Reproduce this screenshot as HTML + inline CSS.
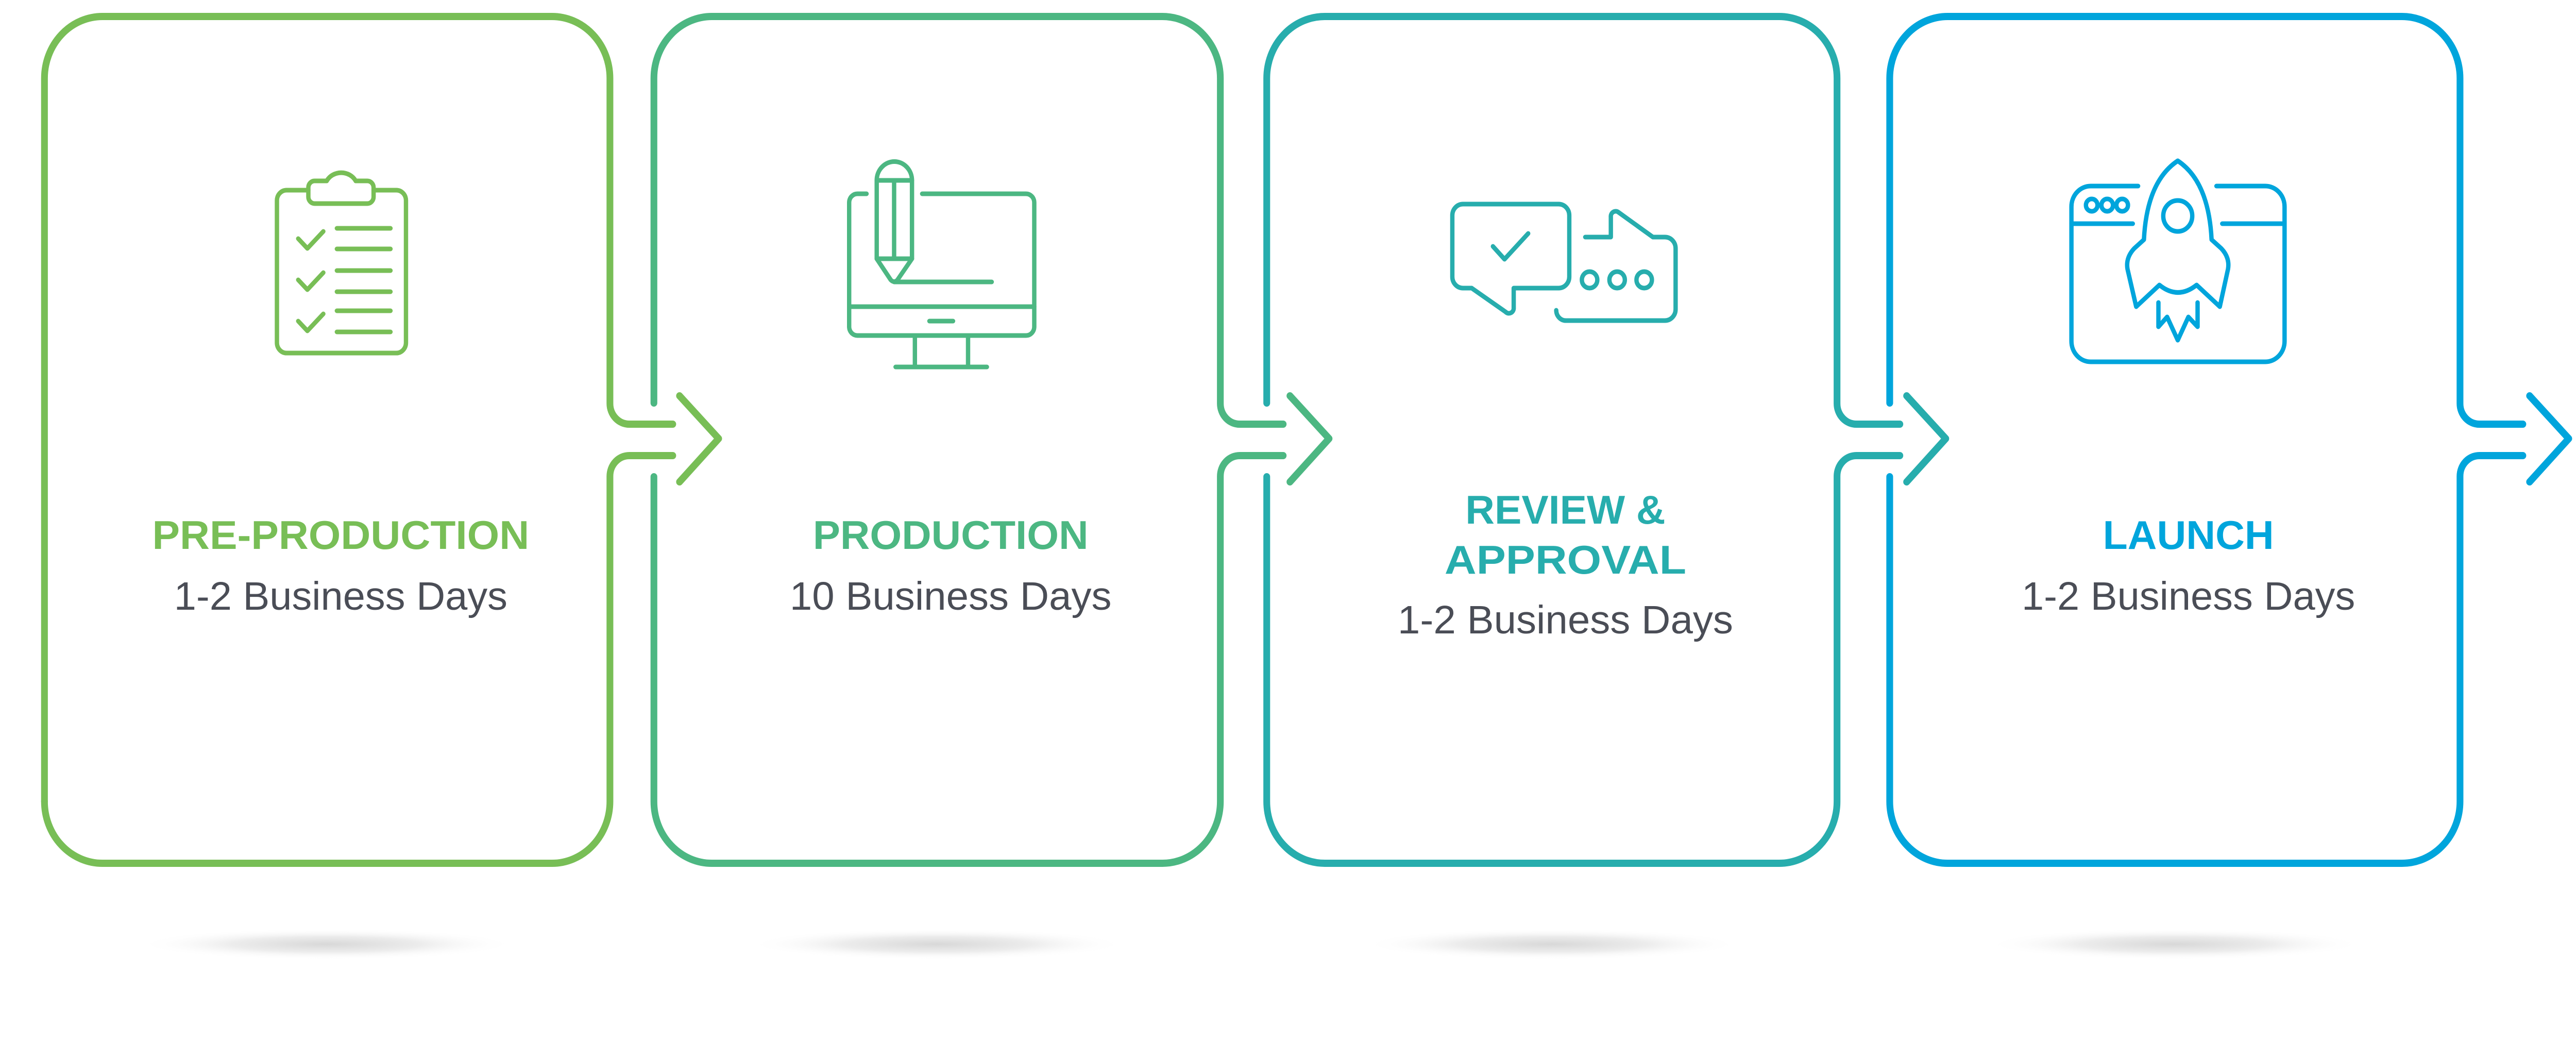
<!DOCTYPE html>
<html><head><meta charset="utf-8"><style>
html,body{margin:0;padding:0;background:#fff;overflow:hidden;width:100vw;height:100vh;}
svg{display:block;width:100vw;height:100vh;}
text{font-family:"Liberation Sans",sans-serif;}
.t{font-weight:bold;font-size:78px;}
.s{font-size:77px;fill:#4a4d56;}
</style></head><body>
<svg viewBox="0 0 5330 2014" preserveAspectRatio="none" xmlns="http://www.w3.org/2000/svg">
<defs>
<radialGradient id="sh" cx="50%" cy="50%" r="50%">
<stop offset="0" stop-color="#d8d8d8"/>
<stop offset="0.5" stop-color="#ececec"/>
<stop offset="1" stop-color="#fff" stop-opacity="0"/>
</radialGradient>
</defs>
<rect width="5330" height="2014" fill="#fff"/>
<ellipse cx="676" cy="1832" rx="390" ry="30" fill="url(#sh)"/>
<ellipse cx="1939" cy="1832" rx="390" ry="30" fill="url(#sh)"/>
<ellipse cx="3211" cy="1832" rx="390" ry="30" fill="url(#sh)"/>
<ellipse cx="4500" cy="1832" rx="390" ry="30" fill="url(#sh)"/>

<g fill="none" stroke-width="14" stroke-linecap="round" stroke-linejoin="round">
<g stroke="#78BE56">
<path d="M92 1555 V152 A120 120 0 0 1 212 32 H1142 A120 120 0 0 1 1262 152 V783 A40 40 0 0 0 1302 823 H1392"/>
<path d="M1392 884 H1302 A40 40 0 0 0 1262 924 V1555 A120 120 0 0 1 1142 1675 H212 A120 120 0 0 1 92 1555"/>
<path d="M1406 768 L1487 851 L1406 935"/>
</g>
<g stroke="#4CB782">
<path d="M1353 782 V152 A120 120 0 0 1 1473 32 H2405 A120 120 0 0 1 2525 152 V783 A40 40 0 0 0 2565 823 H2655"/>
<path d="M2655 884 H2565 A40 40 0 0 0 2525 924 V1555 A120 120 0 0 1 2405 1675 H1473 A120 120 0 0 1 1353 1555 V925"/>
<path d="M2669 768 L2750 851 L2669 935"/>
</g>
<g stroke="#27ADAD">
<path d="M2621 782 V152 A120 120 0 0 1 2741 32 H3681 A120 120 0 0 1 3801 152 V783 A40 40 0 0 0 3841 823 H3931"/>
<path d="M3931 884 H3841 A40 40 0 0 0 3801 924 V1555 A120 120 0 0 1 3681 1675 H2741 A120 120 0 0 1 2621 1555 V925"/>
<path d="M3945 768 L4026 851 L3945 935"/>
</g>
<g stroke="#00A5DC">
<path d="M3910 782 V152 A120 120 0 0 1 4030 32 H4970 A120 120 0 0 1 5090 152 V783 A40 40 0 0 0 5130 823 H5220"/>
<path d="M5220 884 H5130 A40 40 0 0 0 5090 924 V1555 A120 120 0 0 1 4970 1675 H4030 A120 120 0 0 1 3910 1555 V925"/>
<path d="M5234 768 L5315 851 L5234 935"/>
</g>
</g>

<g fill="none" stroke-width="9" stroke-linecap="round" stroke-linejoin="round">
<g stroke="#78BE56">
<path d="M638 369 H593 A20 20 0 0 0 573 389 V665 A20 20 0 0 0 593 685 H820 A20 20 0 0 0 840 665 V389 A20 20 0 0 0 820 369 H773"/>
<path d="M652 351 H676 A34 30 0 0 1 736 351 H760 A13 13 0 0 1 773 364 V382 A13 13 0 0 1 760 395 H651 A13 13 0 0 1 638 382 V364 A13 13 0 0 1 652 351 Z"/>
<path d="M617 463 L636 482 L669 449"/>
<path d="M617 543 L636 562 L669 529"/>
<path d="M617 623 L636 642 L669 609"/>
<path d="M697 443 H808 M697 483 H808 M697 525 H808 M697 566 H808 M697 603 H808 M697 644 H808"/>
</g>
<g stroke="#4CB782">
<path d="M1793 376 H1774 A17 17 0 0 0 1757 393 V634 A17 17 0 0 0 1774 651 H2123 A17 17 0 0 0 2140 634 V393 A17 17 0 0 0 2123 376 H1908"/>
<path d="M1757 595 H2140"/>
<path d="M1923 623 H1972"/>
<path d="M1893 651 V712 M2003 651 V712 M1853 712 H2042"/>
<path d="M1814 502 V350 A36 36 0 0 1 1887 350 V502 L1857 543 Q1850 550 1843 543 Z"/>
<path d="M1814 350 H1887 M1850 350 V502 M1814 502 H1887"/>
<path d="M1850 547 H2052"/>
</g>
<g stroke="#27ADAD">
<path d="M3045 559 H3027 A22 22 0 0 1 3005 537 V418 A22 22 0 0 1 3027 396 H3225 A22 22 0 0 1 3247 418 V537 A22 22 0 0 1 3225 559 H3132 V597 A10 10 0 0 1 3115 605 Z"/>
<path d="M3089 478 L3113 503 L3162 453"/>
<path d="M3280 460 H3333 V421 A10 10 0 0 1 3349 412 L3420 460 H3445 A22 22 0 0 1 3467 482 V600 A22 22 0 0 1 3445 622 H3240 A20 20 0 0 1 3220 602"/>
<circle cx="3289" cy="543" r="16"/>
<circle cx="3346" cy="543" r="16"/>
<circle cx="3402" cy="543" r="16"/>
</g>
<g stroke="#00A5DC">
<path d="M4424 361 H4326 A40 40 0 0 0 4286 401 V662 A40 40 0 0 0 4326 702 H4687 A40 40 0 0 0 4727 662 V401 A40 40 0 0 0 4687 361 H4586"/>
<path d="M4286 434 H4413 M4598 434 H4727"/>
<circle cx="4328" cy="398" r="12"/>
<circle cx="4360" cy="398" r="12"/>
<circle cx="4391" cy="398" r="12"/>
<path d="M4506 312 Q4442 352 4436 465 L4416 482 Q4398 500 4402 522 L4420 595 L4468 553 Q4506 582 4545 553 L4593 595 L4610 522 Q4614 500 4596 482 L4576 465 Q4570 352 4506 312 Z"/>
<circle cx="4506" cy="419" r="30"/>
<path d="M4466 587 V634 L4484 615 L4506 660 L4528 615 L4547 634 V587"/>
</g>
</g>

<text class="t" fill="#78BE56" x="705" y="1065" text-anchor="middle" textLength="780" lengthAdjust="spacingAndGlyphs">PRE-PRODUCTION</text>
<text class="s" x="705" y="1183" text-anchor="middle" textLength="690" lengthAdjust="spacingAndGlyphs">1-2 Business Days</text>

<text class="t" fill="#4CB782" x="1967" y="1065" text-anchor="middle" textLength="570" lengthAdjust="spacingAndGlyphs">PRODUCTION</text>
<text class="s" x="1967" y="1183" text-anchor="middle" textLength="666" lengthAdjust="spacingAndGlyphs">10 Business Days</text>

<text class="t" fill="#27ADAD" x="3239" y="1016" text-anchor="middle" textLength="414" lengthAdjust="spacingAndGlyphs">REVIEW &amp;</text>
<text class="t" fill="#27ADAD" x="3239" y="1113" text-anchor="middle" textLength="500" lengthAdjust="spacingAndGlyphs">APPROVAL</text>
<text class="s" x="3239" y="1229" text-anchor="middle" textLength="694" lengthAdjust="spacingAndGlyphs">1-2 Business Days</text>

<text class="t" fill="#00A5DC" x="4528" y="1065" text-anchor="middle" textLength="354" lengthAdjust="spacingAndGlyphs">LAUNCH</text>
<text class="s" x="4528" y="1183" text-anchor="middle" textLength="690" lengthAdjust="spacingAndGlyphs">1-2 Business Days</text>
</svg>
</body></html>
